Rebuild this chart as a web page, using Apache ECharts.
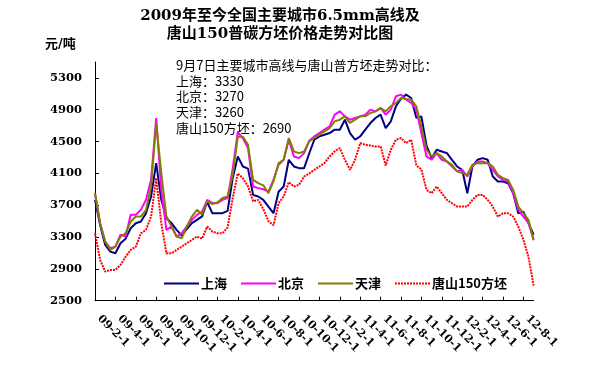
<!DOCTYPE html>
<html><head><meta charset="utf-8">
<script src="https://cdn.jsdelivr.net/npm/echarts@6/dist/echarts.min.js"></script>
<style>html,body{margin:0;padding:0;background:#fff}#c{width:599px;height:371px}</style>
</head><body><div id="c"></div>
<script>
const categories = [
'09-2-1','09-2-16','09-3-1','09-3-16','09-4-1','09-4-16','09-5-1','09-5-16','09-6-1','09-6-16','09-7-1','09-7-16','09-8-1','09-8-16','09-9-1','09-9-16','09-10-1','09-10-16','09-11-1','09-11-16','09-12-1','09-12-16',
'10-1-1','10-1-16','10-2-1','10-2-16','10-3-1','10-3-16','10-4-1','10-4-16','10-5-1','10-5-16','10-6-1','10-6-16','10-7-1','10-7-16','10-8-1','10-8-16','10-9-1','10-9-16','10-10-1','10-10-16','10-11-1','10-11-16','10-12-1','10-12-16',
'11-1-1','11-1-16','11-2-1','11-2-16','11-3-1','11-3-16','11-4-1','11-4-16','11-5-1','11-5-16','11-6-1','11-6-16','11-7-1','11-7-16','11-8-1','11-8-16','11-9-1','11-9-16','11-10-1','11-10-16','11-11-1','11-11-16','11-12-1','11-12-16',
'12-1-1','12-1-16','12-2-1','12-2-16','12-3-1','12-3-16','12-4-1','12-4-16','12-5-1','12-5-16','12-6-1','12-6-16','12-7-1','12-7-16','12-8-1','12-8-16','12-9-7'
];
const shanghai = [3768,3450,3200,3117,3096,3222,3280,3411,3474,3495,3600,3810,4230,3768,3540,3474,3390,3320,3400,3474,3516,3560,
3740,3600,3600,3600,3630,4040,4313,4187,4160,3830,3810,3767,3683,3600,3870,3935,4271,4187,4166,4166,4350,4523,4565,4586,
4607,4649,4649,4775,4607,4523,4565,4649,4733,4796,4838,4670,4754,4943,5040,5090,5048,4800,4817,4450,4292,4397,4376,4355,
4271,4187,4145,3851,4187,4271,4292,4271,4061,3998,3998,3977,3851,3599,3620,3474,3330];
const beijing = [3852,3474,3243,3160,3180,3330,3306,3579,3579,3642,3768,4020,4796,3894,3390,3432,3306,3348,3432,3516,3579,3620,
3768,3730,3725,3768,3790,4160,4620,4540,4420,3935,3915,3900,3872,4019,4208,4271,4523,4313,4292,4355,4510,4565,4607,4649,
4691,4838,4880,4817,4775,4796,4817,4838,4901,4880,4922,4838,4901,5069,5090,5027,4985,4901,4607,4313,4271,4355,4271,4250,
4187,4125,4145,4061,4187,4250,4250,4229,4145,4061,4019,3998,3851,3641,3558,3474,3270];
const tianjin = [3852,3474,3243,3140,3180,3306,3348,3495,3558,3558,3642,3936,4733,4104,3558,3432,3306,3285,3432,3558,3642,3580,
3750,3715,3735,3790,3810,4080,4560,4560,4460,4019,3977,3950,3851,4000,4229,4271,4544,4376,4355,4376,4502,4544,4586,4628,
4670,4754,4775,4817,4733,4775,4817,4817,4859,4880,4922,4880,4943,4985,5048,5036,5027,4943,4691,4397,4313,4355,4313,4250,
4208,4125,4103,4082,4208,4229,4229,4229,4187,4082,4040,4019,3893,3683,3599,3516,3260];
const tangshan = [3348,3012,2865,2887,2887,2950,3054,3138,3180,3348,3390,3558,4040,3474,3096,3096,3138,3180,3222,3264,3306,3280,
3432,3370,3348,3348,3420,3790,4100,4040,3935,3750,3767,3650,3500,3450,3725,3810,3990,3935,3956,4061,4100,4145,4187,4229,
4313,4376,4418,4271,4145,4271,4481,4460,4450,4439,4439,4200,4397,4523,4544,4481,4523,4200,4150,3893,3851,3935,3851,3767,
3725,3683,3683,3683,3767,3830,3830,3767,3683,3557,3599,3599,3557,3432,3264,3050,2690];
const yTicks = [2500,2900,3300,3700,4100,4500,4900,5300];
const seriesNames = ['上海','北京','天津','唐山150方坯'];
const seriesColors = ['#000080','#FF00FF','#808000','#FF0000'];
const titleLines = ['2009年至今全国主要城市6.5mm高线及','唐山150普碳方坯价格走势对比图'];
const noteLines = ['9月7日主要城市高线与唐山普方坯走势对比：','上海：3330','北京：3270','天津：3260','唐山150方坯：2690'];

const SERIF = "'DejaVu Serif','Noto Sans CJK SC',serif";
const chart = echarts.init(document.getElementById('c'), null, {renderer:'canvas'});
const dataSets = [shanghai, beijing, tianjin, tangshan];
const series = dataSets.map((d, k) => ({
  name: seriesNames[k], type: 'line', data: d, symbol: 'none', showSymbol: false,
  lineStyle: k === 3 ? {color: seriesColors[k], width: 2, type: [2,1]} : {color: seriesColors[k], width: 2},
  itemStyle: {color: seriesColors[k]}, z: 2 + k
}));
chart.setOption({
  animation: false,
  backgroundColor: '#fff',
  grid: {left: 95, right: 65.4, top: 62, bottom: 70.3, containLabel: false},
  legend: {
    left: 158, top: 272, itemWidth: 35, itemHeight: 14, itemGap: 13,
    data: seriesNames,
    itemStyle: {opacity: 0},
    textStyle: {color: '#000', fontWeight: 'bold', fontSize: 13, fontFamily: "'Noto Sans CJK SC',sans-serif", padding:[0,0,0,-3]}
  },
  xAxis: {
    type: 'category', data: categories, boundaryGap: false,
    axisLine: {lineStyle: {color: '#000', width: 1}},
    axisTick: {inside: true, length: 4, interval: 3, lineStyle: {color: '#000'}},
    axisLabel: {interval: 3, rotate: -45, margin: 12, padding: [0,0,0,6], color: '#000', fontWeight: 'bold', fontSize: 11, fontFamily: SERIF},
    splitLine: {show: false}
  },
  yAxis: {
    type: 'value', min: 2500, max: 5500, interval: 400,
    axisLine: {show: true, lineStyle: {color: '#000', width: 1}},
    axisTick: {show: true, inside: true, length: 4, lineStyle: {color: '#000'}, customValues: yTicks},
    axisLabel: {margin: 13, color: '#000', fontWeight: 'bold', fontSize: 11.5, fontFamily: SERIF, customValues: yTicks, formatter: v => String(v)},
    splitLine: {show: false}
  },
  graphic: [
    {type:'text', x: 280, y: 16, style: {text: titleLines[0], align:'center', verticalAlign:'middle', font: "bold 15px " + SERIF, fill:'#000'}},
    {type:'text', x: 280, y: 34, style: {text: titleLines[1], align:'center', verticalAlign:'middle', font: "bold 15px " + SERIF, fill:'#000'}},
    {type:'text', x: 45, y: 45, style: {text: '元/吨', align:'left', verticalAlign:'middle', font: "bold 13px " + SERIF, fill:'#000'}},
    ...noteLines.map((t, i) => ({type:'text', x: 176, y: 65 + i * 15.7, style: {text: t, align:'left', verticalAlign:'middle', font: "13px 'Noto Sans CJK SC',sans-serif", fill:'#000'}}))
  ],
  series: series
});
</script></body></html>
